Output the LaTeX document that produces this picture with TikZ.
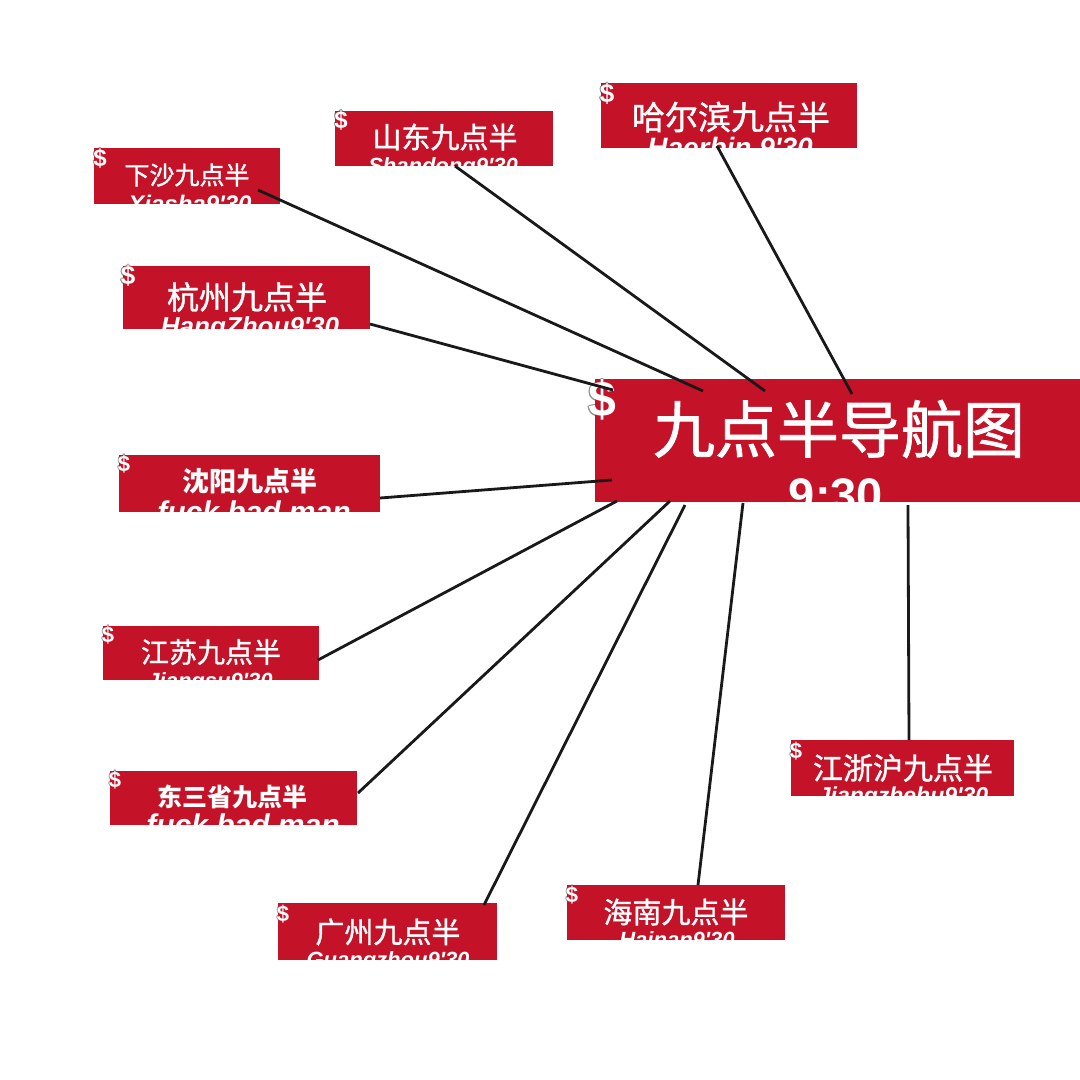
\documentclass[tikz,border=0pt]{standalone}
\usepackage{fontspec}
\newfontfamily\cjk[FakeBold=1.2]{Noto Sans CJK SC}
\newfontfamily\cjkb{Noto Sans CJK SC}
\newfontfamily\latsub{Liberation Sans}
\usetikzlibrary{calc}
\definecolor{boxred}{RGB}{196,18,40}
\definecolor{linecol}{RGB}{25,25,25}
\tikzset{
  redbox/.style={fill=boxred, draw=none, inner sep=0pt, outer sep=0pt, anchor=north west},
  cntext/.style={text=white, inner sep=0pt, anchor=center},
  subtext/.style={text=white, inner sep=0pt, anchor=base},
  dollarw/.style={text=white, inner sep=0pt, anchor=center},
  dollarg/.style={text=black!45, inner sep=0pt, anchor=center},
  link/.style={draw=linecol, line width=2.8pt}
}
\newcommand{\cf}[1]{\cjk\fontsize{#1}{#1}\selectfont}
\newcommand{\cfb}[1]{\cjkb\bfseries\fontsize{#1}{#1}\selectfont}
\newcommand{\subf}[1]{\latsub\bfseries\itshape\fontsize{#1}{#1}\selectfont}
\newcommand{\dol}[3]{%
  \foreach \dx/\dy in {-0.8/0,0.8/0,0/-0.8,0/0.8,-0.6/-0.6,0.6/0.6,-0.6/0.6,0.6/-0.6}{
    \node[dollarg, font=\latsub\bfseries\fontsize{#3}{#3}\selectfont] at ($(#1,#2)+(\dx,\dy)$) {\$};}}
\newcommand{\dolw}[3]{\node[dollarw, font=\latsub\bfseries\fontsize{#3}{#3}\selectfont] at (#1,#2) {\$};}
\begin{document}
\begin{tikzpicture}[x=1pt,y=-1pt]
\useasboundingbox (0,0) rectangle (1080,1080);
\fill[white] (0,0) rectangle (1080,1080);

% gray outlines of the dollar signs
\dol{100}{158}{24}
\dol{341}{120}{24}
\dol{607}{94}{26}
\dol{128}{276}{26}
\dol{124}{464}{22}
\dol{108}{635}{22}
\dol{115}{780}{22}
\dol{283}{914}{22}
\dol{572}{895}{22}
\dol{796}{751}{22}
\dol{602}{400}{50}

% boxes
\node[redbox, minimum width=186, minimum height=56] (xs) at (94,148) {};
\node[redbox, minimum width=218, minimum height=55] (sd) at (335,111) {};
\node[redbox, minimum width=256, minimum height=65] (he) at (601,83) {};
\node[redbox, minimum width=247, minimum height=63] (hz) at (123,266) {};
\node[redbox, minimum width=485, minimum height=123] (main) at (595,379) {};
\node[redbox, minimum width=261, minimum height=57] (sy) at (119,455) {};
\node[redbox, minimum width=216, minimum height=54] (js) at (103,626) {};
\node[redbox, minimum width=247, minimum height=54] (ds) at (110,771) {};
\node[redbox, minimum width=219, minimum height=57] (gz) at (278,903) {};
\node[redbox, minimum width=218, minimum height=55] (hn) at (567,885) {};
\node[redbox, minimum width=223, minimum height=56] (jz) at (791,740) {};

% texts
\node[cntext, font=\cf{25}] (xs-t) at (187,175) {下沙九点半};
\begin{scope}\clip (xs.north west) rectangle (xs.south east);
\node[subtext, font=\subf{24}] (xs-s) at (190,212) {Xiasha9'30};\end{scope}

\node[cntext, font=\cf{29}] (sd-t) at (445,137) {山东九点半};
\begin{scope}\clip (sd.north west) rectangle (sd.south east);
\node[subtext, font=\subf{22}] (sd-s) at (443,173) {Shandong9'30};\end{scope}

\node[cntext, font=\cf{33}] (he-t) at (731,117) {哈尔滨九点半};
\begin{scope}\clip (he.north west) rectangle (he.south east);
\node[subtext, font=\subf{28}] (he-s) at (730,157) {Haerbin 9'30};\end{scope}

\node[cntext, font=\cf{32}] (hz-t) at (247,297) {杭州九点半};
\begin{scope}\clip (hz.north west) rectangle (hz.south east);
\node[subtext, font=\subf{26}] (hz-s) at (250,335) {HangZhou9'30};\end{scope}

\node[cntext, font=\cf{62}] (main-t) at (839,429) {九点半导航图};
\begin{scope}\clip (main.north west) rectangle (main.south east);
\node[subtext, font=\latsub\bfseries\fontsize{47}{47}\selectfont] (main-s) at (836,511) {9:30};\end{scope}

\node[cntext, font=\cfb{27}] (sy-t) at (250,481) {沈阳九点半};
\begin{scope}\clip (sy.north west) rectangle (sy.south east);
\node[subtext, font=\subf{30}] (sy-s) at (254,522) {fuck bad man};\end{scope}

\node[cntext, font=\cf{28}] (js-t) at (211,652) {江苏九点半};
\begin{scope}\clip (js.north west) rectangle (js.south east);
\node[subtext, font=\subf{22}] (js-s) at (210,688) {Jiangsu9'30};\end{scope}

\node[cntext, font=\cfb{25}] (ds-t) at (232,797) {东三省九点半};
\begin{scope}\clip (ds.north west) rectangle (ds.south east);
\node[subtext, font=\subf{30}] (ds-s) at (243,835) {fuck bad man};\end{scope}

\node[cntext, font=\cf{29}] (gz-t) at (388,932) {广州九点半};
\begin{scope}\clip (gz.north west) rectangle (gz.south east);
\node[subtext, font=\subf{22}] (gz-s) at (388,967) {Guangzhou9'30};\end{scope}

\node[cntext, font=\cf{29}] (hn-t) at (676,912) {海南九点半};
\begin{scope}\clip (hn.north west) rectangle (hn.south east);
\node[subtext, font=\subf{22}] (hn-s) at (677,947) {Hainan9'30};\end{scope}

\node[cntext, font=\cf{30}] (jz-t) at (903,768) {江浙沪九点半};
\begin{scope}\clip (jz.north west) rectangle (jz.south east);
\node[subtext, font=\subf{23}] (jz-s) at (903,803) {Jiangzhehu9'30};\end{scope}

% white dollar signs
\dolw{100}{158}{24}
\dolw{341}{120}{24}
\dolw{607}{94}{26}
\dolw{128}{276}{26}
\dolw{124}{464}{22}
\dolw{108}{635}{22}
\dolw{115}{780}{22}
\dolw{283}{914}{22}
\dolw{572}{895}{22}
\dolw{796}{751}{22}
\dolw{602}{400}{50}

% connectors
\draw[link] ($(xs.north west)+(164,42)$) -- ($(main.north west)+(108,12)$);
\draw[link] ($(sd.north west)+(120,55)$) -- ($(main.north west)+(170,12)$);
\draw[link] ($(he.north west)+(116,63)$) -- ($(main.north west)+(257,15)$);
\draw[link] ($(hz.north west)+(247,58)$) -- ($(main.north west)+(18,11)$);
\draw[link] ($(sy.north west)+(261,43)$) -- ($(main.north west)+(17,101)$);
\draw[link] ($(js.north west)+(215,34)$) -- ($(main.north west)+(22,122)$);
\draw[link] ($(ds.north west)+(248,22)$) -- ($(main.north west)+(75,122)$);
\draw[link] ($(gz.north west)+(206,2)$) -- ($(main.north west)+(90,126)$);
\draw[link] ($(hn.north west)+(131,0)$) -- ($(main.north west)+(148,124)$);
\draw[link] ($(jz.north west)+(118,0)$) -- ($(main.north west)+(313,126)$);
\end{tikzpicture}
\end{document}
